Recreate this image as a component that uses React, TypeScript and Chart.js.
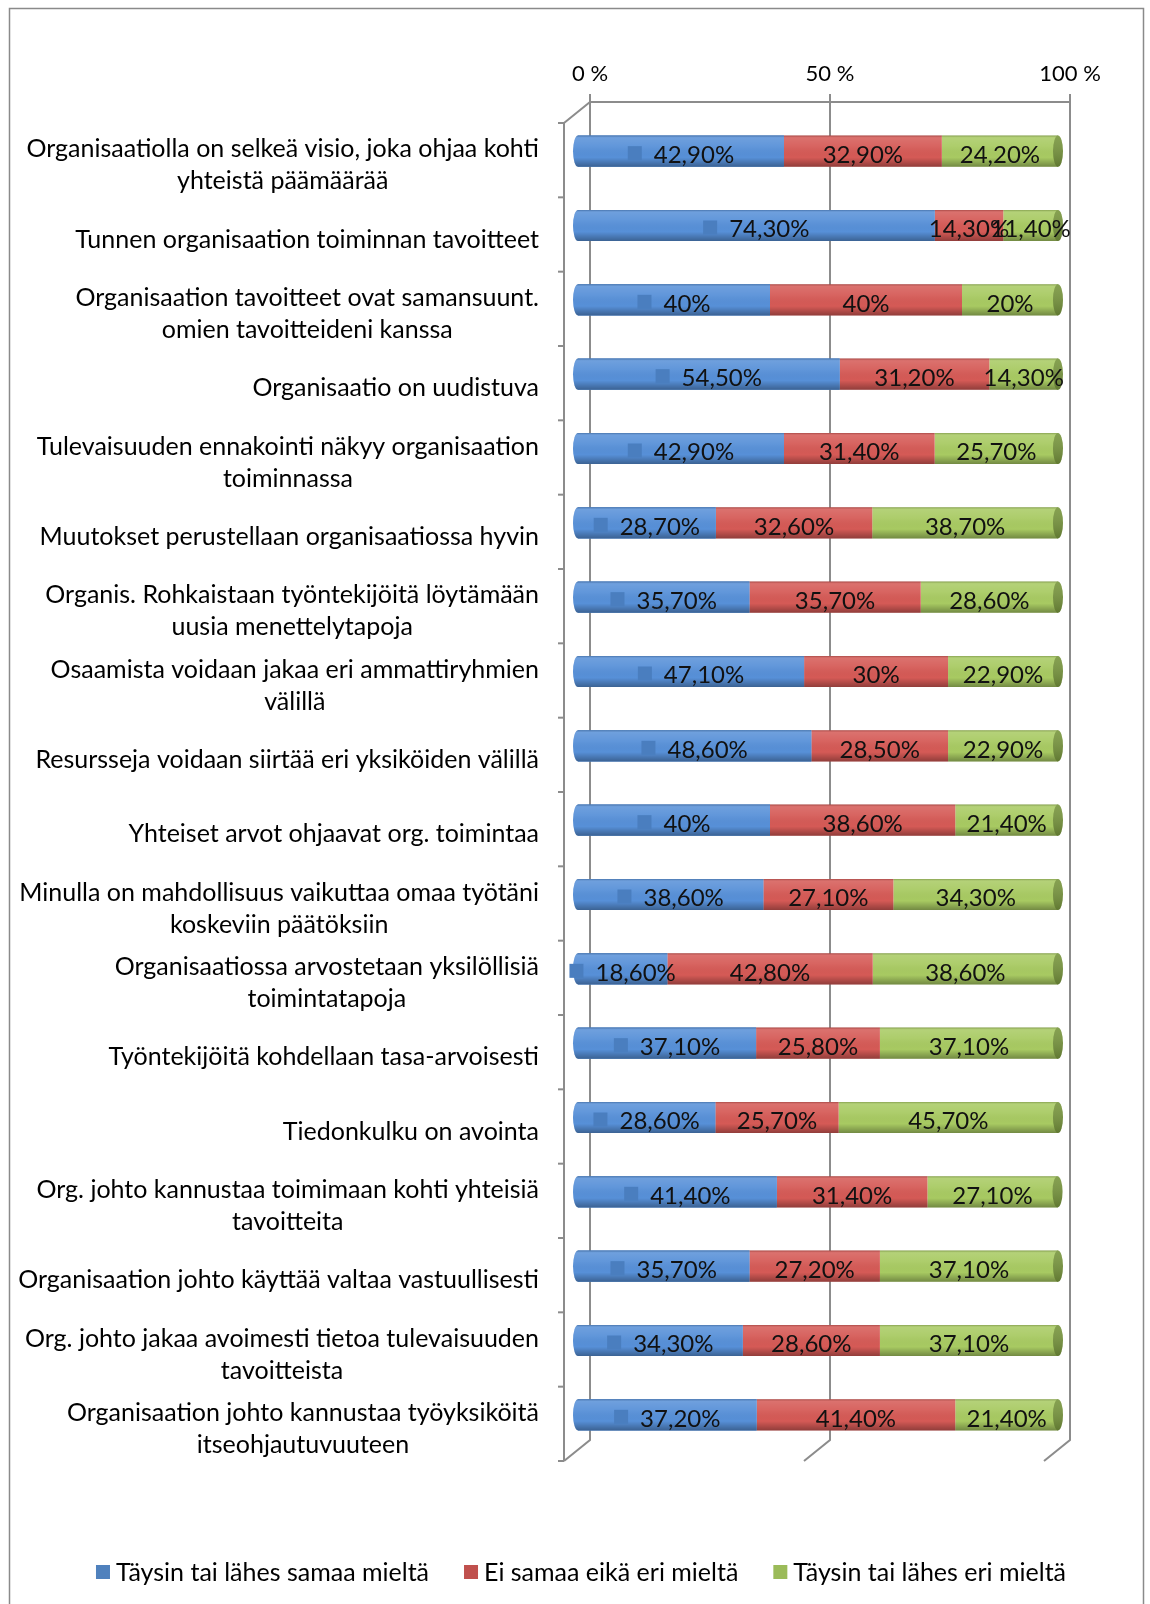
import React, { useEffect, useRef } from 'react';
import { Chart, registerables } from 'chart.js';
Chart.register(...registerables);

const categories: string[][] = [
  ['Organisaatiolla on selkeä visio, joka ohjaa kohti', 'yhteistä päämäärää'],
  ['Tunnen organisaation toiminnan tavoitteet'],
  ['Organisaation tavoitteet ovat samansuunt.', 'omien tavoitteideni kanssa'],
  ['Organisaatio on uudistuva'],
  ['Tulevaisuuden ennakointi näkyy organisaation', 'toiminnassa'],
  ['Muutokset perustellaan organisaatiossa hyvin'],
  ['Organis. Rohkaistaan työntekijöitä löytämään', 'uusia menettelytapoja'],
  ['Osaamista voidaan jakaa eri ammattiryhmien', 'välillä'],
  ['Resursseja voidaan siirtää eri yksiköiden välillä'],
  ['Yhteiset arvot ohjaavat org. toimintaa'],
  ['Minulla on mahdollisuus vaikuttaa omaa työtäni', 'koskeviin päätöksiin'],
  ['Organisaatiossa arvostetaan yksilöllisiä', 'toimintatapoja'],
  ['Työntekijöitä kohdellaan tasa-arvoisesti'],
  ['Tiedonkulku on avointa'],
  ['Org. johto kannustaa toimimaan kohti yhteisiä', 'tavoitteita'],
  ['Organisaation johto käyttää valtaa vastuullisesti'],
  ['Org. johto jakaa avoimesti tietoa tulevaisuuden', 'tavoitteista'],
  ['Organisaation johto kannustaa työyksiköitä', 'itseohjautuvuuteen'],
];

const seriesNames = ['Täysin tai lähes samaa mieltä', 'Ei samaa eikä eri mieltä', 'Täysin tai lähes eri mieltä'];

const agree = [42.9, 74.3, 40, 54.5, 42.9, 28.7, 35.7, 47.1, 48.6, 40, 38.6, 18.6, 37.1, 28.6, 41.4, 35.7, 34.3, 37.2];
const neutral = [32.9, 14.3, 40, 31.2, 31.4, 32.6, 35.7, 30, 28.5, 38.6, 27.1, 42.8, 25.8, 25.7, 31.4, 27.2, 28.6, 41.4];
const disagree = [24.2, 11.4, 20, 14.3, 25.7, 38.7, 28.6, 22.9, 22.9, 21.4, 34.3, 38.6, 37.1, 45.7, 27.1, 37.1, 37.1, 21.4];

const tickValues = [0, 50, 100];
const tickLabels = ['0 %', '50 %', '100 %'];

const colors = ['#5790D8', '#D55A56', '#A8CA62'];
const legendColors = ['#4F81BD', '#C0504D', '#9BBB59'];
const capColor = '#78963D';
const lineColor = '#8C8C8C';
const FONT = 'Lato, "Open Sans", sans-serif';

const fmt = (v: number) => (Number.isInteger(v) ? `${v}%` : `${v.toFixed(2).replace('.', ',')}%`);

const decor = {
  id: 'decor',
  beforeDraw(chart: any) {
    const { ctx, width, height, chartArea: area } = chart;
    const xs = chart.scales.x;
    const ys = chart.scales.y;
    ctx.save();
    ctx.fillStyle = '#ffffff';
    ctx.fillRect(0, 0, width, height);
    ctx.strokeStyle = '#8a8a8a';
    ctx.lineWidth = 1.5;
    ctx.strokeRect(9.5, 8.5, 1134, height + 20);

    const BX = 12, BY = -12, FX = -14, FY = 9;
    const backTop = area.top + BY;
    const backBot = area.bottom + BY;
    const frontTop = area.top + FY;
    const frontBot = area.bottom + FY;
    const frontX = area.left + FX;

    ctx.strokeStyle = lineColor;
    ctx.lineWidth = 2;
    tickValues.forEach((v) => {
      const gx = xs.getPixelForValue(v) + BX;
      ctx.beginPath();
      ctx.moveTo(gx, backTop - 8);
      ctx.lineTo(gx, backBot);
      ctx.lineTo(gx - (BX - FX), frontBot);
      ctx.stroke();
    });
    const g0 = xs.getPixelForValue(0) + BX;
    const g1 = xs.getPixelForValue(100) + BX;
    ctx.beginPath();
    ctx.moveTo(frontX, frontTop);
    ctx.lineTo(g0, backTop);
    ctx.lineTo(g1, backTop);
    ctx.stroke();
    ctx.beginPath();
    ctx.moveTo(frontX, frontTop);
    ctx.lineTo(frontX, frontBot);
    ctx.stroke();
    const n = categories.length;
    const band = (area.bottom - area.top) / n;
    for (let k = 0; k <= n; k++) {
      const y = frontTop + k * band;
      ctx.beginPath();
      ctx.moveTo(frontX - 6, y);
      ctx.lineTo(frontX, y);
      ctx.stroke();
    }
    ctx.fillStyle = '#000';
    ctx.font = `22px ${FONT}`;
    ctx.textAlign = 'center';
    ctx.textBaseline = 'middle';
    tickValues.forEach((v, i) => {
      ctx.fillText(tickLabels[i], xs.getPixelForValue(v) + BX, backTop - 28);
    });
    ctx.font = `25px ${FONT}`;
    const labelRight = frontX - 25;
    const lh = 32;
    categories.forEach((lines, i) => {
      const cy = ys.getPixelForValue(i) + 14;
      const w = Math.max(...lines.map((l) => ctx.measureText(l).width));
      const cx = labelRight - w / 2;
      lines.forEach((l, j) => {
        ctx.fillText(l, cx, cy + (j - (lines.length - 1) / 2) * lh);
      });
    });
    const ly = 1572;
    ctx.font = `25px ${FONT}`;
    const widths = seriesNames.map((s) => ctx.measureText(s).width);
    const total = widths.reduce((a, b) => a + b, 0) + seriesNames.length * 20 + (seriesNames.length - 1) * 35;
    let lx = 581 - total / 2;
    ctx.textAlign = 'left';
    seriesNames.forEach((s, i) => {
      ctx.fillStyle = legendColors[i];
      ctx.fillRect(lx, ly - 7, 14, 14);
      ctx.fillStyle = '#000';
      ctx.fillText(s, lx + 20, ly + 1);
      lx += 20 + widths[i] + 35;
    });
    ctx.restore();
  },
  afterDatasetsDraw(chart: any) {
    const { ctx } = chart;
    ctx.save();
    const metas = [0, 1, 2].map((d) => chart.getDatasetMeta(d));
    metas.forEach((meta, d) => {
      meta.data.forEach((el: any) => {
        const { x, y, base, height } = el.getProps(['x', 'y', 'base', 'height'], true);
        const top = y - height / 2;
        const bot = y + height / 2;
        const rx = 5;
        ctx.beginPath();
        if (d === 0) {
          ctx.moveTo(base, top);
          ctx.lineTo(x, top);
          ctx.lineTo(x, bot);
          ctx.lineTo(base, bot);
          ctx.ellipse(base, y, rx, height / 2, 0, Math.PI / 2, (3 * Math.PI) / 2);
          ctx.closePath();
          ctx.fillStyle = colors[0];
          ctx.fill();
        } else {
          ctx.rect(base, top, x - base, height);
        }
        const g = ctx.createLinearGradient(0, top, 0, bot);
        g.addColorStop(0, 'rgba(0,0,0,0.22)');
        g.addColorStop(0.07, 'rgba(255,255,255,0.14)');
        g.addColorStop(0.35, 'rgba(255,255,255,0.06)');
        g.addColorStop(0.7, 'rgba(0,0,0,0)');
        g.addColorStop(1, 'rgba(0,0,0,0.32)');
        ctx.fillStyle = g;
        ctx.fill();
        if (d === 2) {
          ctx.beginPath();
          ctx.ellipse(x, y, rx, height / 2, 0, 0, Math.PI * 2);
          ctx.fillStyle = capColor;
          ctx.fill();
          const g2 = ctx.createLinearGradient(0, top, 0, bot);
          g2.addColorStop(0, 'rgba(255,255,255,0.1)');
          g2.addColorStop(1, 'rgba(0,0,0,0.2)');
          ctx.fillStyle = g2;
          ctx.fill();
        }
      });
    });
    ctx.font = `24px ${FONT}`;
    ctx.textBaseline = 'middle';
    ctx.textAlign = 'left';
    const datasets = chart.data.datasets;
    metas.forEach((meta, d) => {
      meta.data.forEach((el: any, i: number) => {
        const { x, y, base } = el.getProps(['x', 'y', 'base'], true);
        const txt = fmt(datasets[d].data[i]);
        const tw = ctx.measureText(txt).width;
        const cx = (x + base) / 2;
        if (d === 0) {
          const totalW = 14 + 12 + tw;
          const sx = cx - totalW / 2;
          ctx.fillStyle = '#4A7EBF';
          ctx.fillRect(sx, y - 5, 14, 14);
          ctx.fillStyle = '#111';
          ctx.fillText(txt, sx + 26, y + 4);
        } else {
          ctx.fillStyle = '#111';
          ctx.fillText(txt, cx - tw / 2, y + 4);
        }
      });
    });
    ctx.restore();
  },
};

export default function App() {
  const ref = useRef<HTMLCanvasElement>(null);
  useEffect(() => {
    const chart = new Chart(ref.current as HTMLCanvasElement, {
      type: 'bar',
      data: {
        labels: categories.map((c) => c.join(' ')),
        datasets: [agree, neutral, disagree].map((vals, d) => ({
          label: seriesNames[d],
          data: vals,
          backgroundColor: colors[d],
          borderWidth: 0,
          barPercentage: 0.42,
          categoryPercentage: 1,
        })),
      },
      options: {
        indexAxis: 'y',
        responsive: false,
        animation: false,
        layout: { padding: { left: 578, right: 92, top: 114, bottom: 152 } },
        plugins: { legend: { display: false }, tooltip: { enabled: false } },
        scales: {
          x: { stacked: true, min: 0, max: 100, display: false },
          y: { stacked: true, display: false },
        },
      },
      plugins: [decor],
    } as any);
    return () => chart.destroy();
  }, []);
  return (
    <div style={{ position: 'absolute', left: 0, top: 0, width: 1150, height: 1604, overflow: 'hidden' }}>
      <canvas ref={ref} width={1150} height={1604} style={{ display: 'block' }} />
    </div>
  );
}
